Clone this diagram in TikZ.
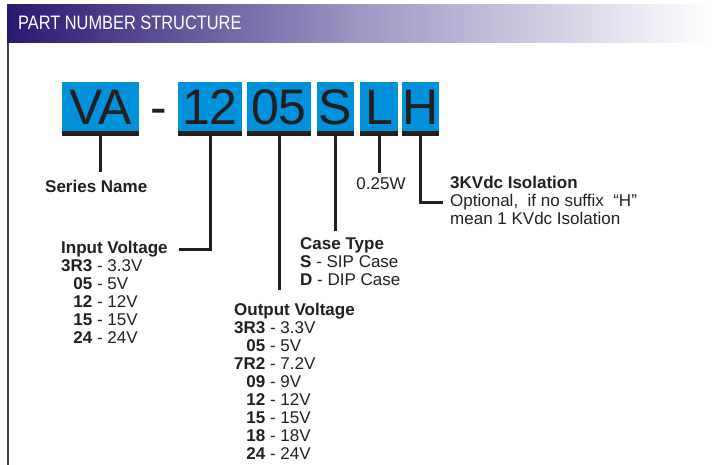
\documentclass[tikz,border=0pt]{standalone}
\usepackage{fontspec}
\setmainfont{Liberation Sans}
\usepackage{graphicx}
\definecolor{codeblue}{RGB}{0,145,218}
\definecolor{barleft}{RGB}{43,24,112}
\definecolor{barmid}{RGB}{158,150,196}
\definecolor{inkc}{RGB}{35,31,32}
\tikzset{
  codebox/.style={fill=codeblue, text=inkc, inner sep=0pt, minimum height=49pt,
    text height=35.8pt, text depth=0pt, font=\fontsize{50}{50}\selectfont},
  lead/.style={line width=3pt, draw=inkc},
  lbl/.style={inner sep=0pt, text=inkc, anchor=base west, font=\fontsize{17}{17.9}\selectfont},
  head/.style={lbl, font=\fontsize{17}{17.9}\selectfont\bfseries},
}
\newcommand{\codelist}[1]{\begin{tabular}[t]{@{}r@{\ -\ }l@{}}#1\end{tabular}}
\begin{document}
\begin{tikzpicture}[x=1pt,y=-1pt]
  \useasboundingbox (0,0) rectangle (713,465);
  % Title bar
  \shade[left color=barleft, right color=white, middle color=barmid] (7,5) rectangle (713,43);
  \node[inner sep=0pt, anchor=base west, text=white, font=\fontsize{19.5}{20}\selectfont]
    (title) at (18,30) {\scalebox{0.84}[1]{PART NUMBER STRUCTURE}};
  \draw[line width=1.5pt, inkc!85] (8,43) -- (8,465);
  % Code boxes
  \node[codebox, minimum width=77pt] (series) at (100.5,106.5) {VA};
  \node[inner sep=0pt, anchor=base, text=inkc, font=\fontsize{50}{50}\selectfont]
    (dash) at (159,124.4) {-};
  \node[codebox, minimum width=64pt] (vin)   at (210,106.5) {12};
  \node[codebox, minimum width=64pt] (vout)  at (279,106.5) {05};
  \node[codebox, minimum width=37pt] (ctype) at (335.5,106.5) {S};
  \node[codebox, minimum width=38pt] (pwr)   at (379,106.5) {L};
  \node[codebox, minimum width=37pt] (iso)   at (420.5,106.5) {H};
  \foreach \b in {series,vin,vout,ctype,pwr,iso}
    \fill[inkc] (\b.south west) rectangle ([yshift=-5pt]\b.south east);
  % Labels
  \node[head] (snlbl) at (45,193) {Series Name};
  \node[head] (invh) at (61,254) {Input Voltage};
  \node[lbl] (invls) at ([yshift=-17.9pt]invh.base west)
    {\codelist{\textbf{3R3} & 3.3V\\ \textbf{05} & 5V\\ \textbf{12} & 12V\\ \textbf{15} & 15V\\ \textbf{24} & 24V}};
  \node[head] (outh) at (234,316) {Output Voltage};
  \node[lbl] (outls) at ([yshift=-17.9pt]outh.base west)
    {\codelist{\textbf{3R3} & 3.3V\\ \textbf{05} & 5V\\ \textbf{7R2} & 7.2V\\ \textbf{09} & 9V\\
      \textbf{12} & 12V\\ \textbf{15} & 15V\\ \textbf{18} & 18V\\ \textbf{24} & 24V}};
  \node[head] (cth) at (300,250) {Case Type};
  \node[lbl] (ctls) at ([yshift=-17.9pt]cth.base west)
    {\begin{tabular}[t]{@{}l@{}}\textbf{S} - SIP Case\\ \textbf{D} - DIP Case\end{tabular}};
  \node[lbl, anchor=base] (pwrl) at (381,190) {0.25W};
  \node[head] (isoh) at (450,189) {3KVdc Isolation};
  \node[lbl] (isoopt) at ([yshift=-17.9pt]isoh.base west) {Optional,\ \ if no suffix\ \ “H”};
  \node[lbl] (isomean) at ([yshift=-17.9pt]isoopt.base west) {mean 1 KVdc Isolation};
  % Leads
  \draw[lead, shorten >=8pt] (series.south) -- (series.south |- snlbl.north);
  \draw[lead, shorten >=11pt] (vin.south) |- (invh.east);
  \draw[lead, shorten >=13.5pt] (vout.south) -- (vout.south |- outh.north);
  \draw[lead, shorten >=6.5pt] (ctype.south) -- (ctype.south |- cth.north);
  \draw[lead, shorten >=4.5pt] (pwr.south) -- (pwr.south |- pwrl.north);
  \draw[lead, shorten >=7pt] (iso.south) |- (isoopt.west);
\end{tikzpicture}
\end{document}
